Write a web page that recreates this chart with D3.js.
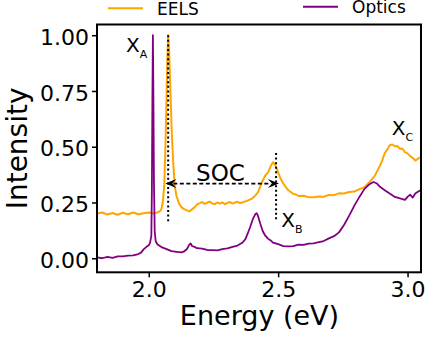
<!DOCTYPE html>
<html>
<head>
<meta charset="utf-8">
<script src="https://cdn.jsdelivr.net/npm/d3@7"></script>
<style>
  body { margin: 0; background: #fff; }
  svg { display: block; font-family: "DejaVu Sans", sans-serif; }
</style>
</head>
<body>
<svg id="chart"></svg>
<script>
// EELS spectrum (energy in eV, normalized intensity)
var eelsEnergy = [1.80,1.82,1.84,1.86,1.88,1.90,1.92,1.94,1.96,1.98,2.00,2.02,2.035,2.045,2.05,2.055,2.06,2.064,2.068,2.072,2.075,2.079,2.084,2.089,2.095,2.101,2.107,2.117,2.127,2.137,2.147,2.157,2.167,2.177,2.187,2.196,2.206,2.216,2.226,2.235,2.245,2.255,2.265,2.275,2.284,2.294,2.304,2.314,2.324,2.333,2.343,2.353,2.363,2.373,2.382,2.392,2.402,2.412,2.422,2.431,2.441,2.451,2.461,2.471,2.480,2.485,2.490,2.500,2.510,2.520,2.529,2.539,2.549,2.559,2.569,2.578,2.598,2.618,2.637,2.657,2.676,2.696,2.716,2.735,2.755,2.774,2.794,2.814,2.833,2.853,2.873,2.892,2.902,2.912,2.922,2.931,2.941,2.951,2.961,2.971,2.980,2.990,3.000,3.010,3.020,3.030,3.040,3.050];
var eelsIntensity = [0.200,0.205,0.196,0.203,0.195,0.204,0.197,0.205,0.197,0.202,0.205,0.201,0.206,0.212,0.225,0.260,0.330,0.480,0.680,0.900,1.000,0.920,0.740,0.560,0.420,0.320,0.280,0.245,0.228,0.220,0.215,0.210,0.219,0.228,0.242,0.246,0.252,0.244,0.249,0.254,0.246,0.243,0.250,0.245,0.251,0.242,0.248,0.252,0.245,0.250,0.253,0.247,0.251,0.255,0.258,0.264,0.270,0.282,0.295,0.322,0.350,0.372,0.385,0.412,0.430,0.425,0.415,0.385,0.355,0.335,0.320,0.305,0.297,0.288,0.286,0.279,0.280,0.273,0.274,0.277,0.276,0.284,0.283,0.291,0.290,0.297,0.299,0.310,0.318,0.342,0.368,0.412,0.438,0.472,0.488,0.507,0.510,0.502,0.503,0.490,0.492,0.476,0.470,0.458,0.450,0.438,0.446,0.453];

// optical spectrum
var opticsEnergy = [1.80,1.82,1.84,1.86,1.88,1.90,1.92,1.94,1.96,1.97,1.98,1.99,2.00,2.005,2.010,2.012,2.014,2.016,2.018,2.020,2.023,2.027,2.034,2.049,2.069,2.088,2.108,2.127,2.137,2.147,2.157,2.162,2.167,2.177,2.186,2.206,2.226,2.245,2.265,2.284,2.304,2.324,2.343,2.363,2.373,2.382,2.392,2.402,2.412,2.417,2.422,2.431,2.441,2.451,2.461,2.471,2.480,2.500,2.520,2.539,2.559,2.578,2.598,2.618,2.637,2.657,2.676,2.696,2.716,2.735,2.755,2.774,2.794,2.814,2.833,2.853,2.868,2.882,2.892,2.912,2.931,2.951,2.971,2.990,3.000,3.010,3.020,3.030,3.040,3.050];
var opticsIntensity = [0.004,0.000,0.006,0.002,0.008,0.008,0.012,0.013,0.019,0.025,0.040,0.050,0.058,0.070,0.100,0.300,0.700,1.000,0.720,0.350,0.120,0.075,0.062,0.050,0.041,0.032,0.029,0.026,0.031,0.040,0.062,0.066,0.055,0.051,0.045,0.043,0.037,0.036,0.035,0.041,0.044,0.051,0.057,0.071,0.085,0.110,0.140,0.175,0.198,0.202,0.190,0.155,0.120,0.100,0.088,0.080,0.070,0.063,0.054,0.053,0.054,0.061,0.060,0.066,0.067,0.072,0.077,0.089,0.099,0.116,0.150,0.190,0.235,0.275,0.310,0.332,0.342,0.335,0.322,0.305,0.290,0.275,0.268,0.262,0.275,0.285,0.272,0.290,0.298,0.305];

var xTicks = [2.0, 2.5, 3.0];
var yTicks = [0.00, 0.25, 0.50, 0.75, 1.00];
var xDomain = [1.80, 3.052];
var yDomain = [-0.063, 1.048];

var config = { width: 436, height: 341, left: 97, top: 24.5, right: 421, bottom: 272.3 };

var svg = d3.select("#chart")
    .attr("width", config.width)
    .attr("height", config.height);

var x = d3.scaleLinear().domain(xDomain).range([config.left, config.right]);
var y = d3.scaleLinear().domain(yDomain).range([config.bottom, config.top]);

var toPoints = function(es, is) { return es.map(function(e, i) { return [e, is[i]]; }); };
var line = d3.line().x(function(d) { return x(d[0]); }).y(function(d) { return y(d[1]); });

svg.append("defs").append("clipPath").attr("id", "plot")
  .append("rect")
    .attr("x", config.left).attr("y", config.top)
    .attr("width", config.right - config.left).attr("height", config.bottom - config.top);

var plot = svg.append("g").attr("clip-path", "url(#plot)");

plot.append("path")
    .datum(toPoints(eelsEnergy, eelsIntensity))
    .attr("d", line)
    .attr("fill", "none")
    .attr("stroke", "#FFA500")
    .attr("stroke-width", 2)
    .attr("stroke-linejoin", "round");

plot.append("path")
    .datum(toPoints(opticsEnergy, opticsIntensity))
    .attr("d", line)
    .attr("fill", "none")
    .attr("stroke", "#800080")
    .attr("stroke-width", 1.8)
    .attr("stroke-linejoin", "round");

// dotted markers at the A and B peaks of EELS
var markers = [[2.075, 1.0, 0.155], [2.492, 0.472, 0.163]];
plot.selectAll(".marker")
    .data(markers)
    .enter().append("line")
    .attr("class", "marker")
    .attr("x1", function(d) { return x(d[0]); })
    .attr("x2", function(d) { return x(d[0]); })
    .attr("y1", function(d) { return y(d[1]); })
    .attr("y2", function(d) { return y(d[2]); })
    .attr("stroke", "#000")
    .attr("stroke-width", 2)
    .attr("stroke-dasharray", "2,2.6");

// SOC double arrow
var arrowY = 0.335, arrowL = 2.064, arrowR = 2.503;
plot.append("line")
    .attr("x1", x(arrowL) + 8).attr("x2", x(arrowR) - 8)
    .attr("y1", y(arrowY)).attr("y2", y(arrowY))
    .attr("stroke", "#000")
    .attr("stroke-width", 1.8)
    .attr("stroke-dasharray", "4,2.5");
var head = function(tx, ty, dir) {
    var L = 11, W = 4.5, B = 7;
    return "M" + tx + "," + ty +
        "L" + (tx + dir * L) + "," + (ty - W) +
        "L" + (tx + dir * B) + "," + ty +
        "L" + (tx + dir * L) + "," + (ty + W) + "Z";
};
plot.append("path").attr("d", head(x(arrowL), y(arrowY), 1)).attr("fill", "#000");
plot.append("path").attr("d", head(x(arrowR), y(arrowY), -1)).attr("fill", "#000");

// frame
svg.append("rect")
    .attr("x", config.left).attr("y", config.top)
    .attr("width", config.right - config.left).attr("height", config.bottom - config.top)
    .attr("fill", "none")
    .attr("stroke", "#000")
    .attr("stroke-width", 2);

// axes
var xAxis = svg.append("g")
    .attr("transform", "translate(0," + config.bottom + ")")
    .call(d3.axisBottom(x).tickValues(xTicks).tickFormat(d3.format(".1f")).tickSize(5).tickPadding(4));
var yAxis = svg.append("g")
    .attr("transform", "translate(" + config.left + ",0)")
    .call(d3.axisLeft(y).tickValues(yTicks).tickFormat(d3.format(".2f")).tickSize(5).tickPadding(3));
[xAxis, yAxis].forEach(function(g) {
    g.select(".domain").remove();
    g.selectAll(".tick line").attr("stroke", "#000").attr("stroke-width", 1.5);
    g.selectAll(".tick text")
        .attr("fill", "#000")
        .style("font-size", "22px")
        .style("font-family", "DejaVu Sans");
});
yAxis.selectAll(".tick text").attr("dy", "0.42em");

// axis labels
svg.append("text")
    .attr("x", (config.left + config.right) / 2 + 0.5)
    .attr("y", 325)
    .attr("text-anchor", "middle")
    .style("font-size", "27px")
    .text("Energy (eV)");
svg.append("text")
    .attr("transform", "translate(27," + ((config.top + config.bottom) / 2) + ") rotate(-90)")
    .attr("text-anchor", "middle")
    .style("font-size", "28px")
    .text("Intensity");

// peak labels
var labels = [
    { main: "X", sub: "A", e: 1.912, v: 0.925 },
    { main: "X", sub: "B", e: 2.512, v: 0.140 },
    { main: "X", sub: "C", e: 2.939, v: 0.552 }
];
labels.forEach(function(l) {
    var t = svg.append("text")
        .attr("x", x(l.e))
        .attr("y", y(l.v))
        .style("font-size", "20px");
    t.append("tspan").text(l.main);
    t.append("tspan")
        .attr("dy", 6)
        .style("font-size", "11px")
        .text(l.sub);
});
svg.append("text")
    .attr("x", x(2.183))
    .attr("y", y(0.347))
    .style("font-size", "23px")
    .text("SOC");

// legend above the frame
var legend = [
    { name: "EELS", color: "#FFA500", x0: 108, ly: 8.3, ty: 15 },
    { name: "Optics", color: "#800080", x0: 303, ly: 6.7, ty: 13 }
];
legend.forEach(function(l) {
    svg.append("line")
        .attr("x1", l.x0).attr("x2", l.x0 + 35)
        .attr("y1", l.ly).attr("y2", l.ly)
        .attr("stroke", l.color)
        .attr("stroke-width", 2);
    svg.append("text")
        .attr("x", l.x0 + 49)
        .attr("y", l.ty)
        .style("font-size", "17px")
        .text(l.name);
});
</script>
</body>
</html>
